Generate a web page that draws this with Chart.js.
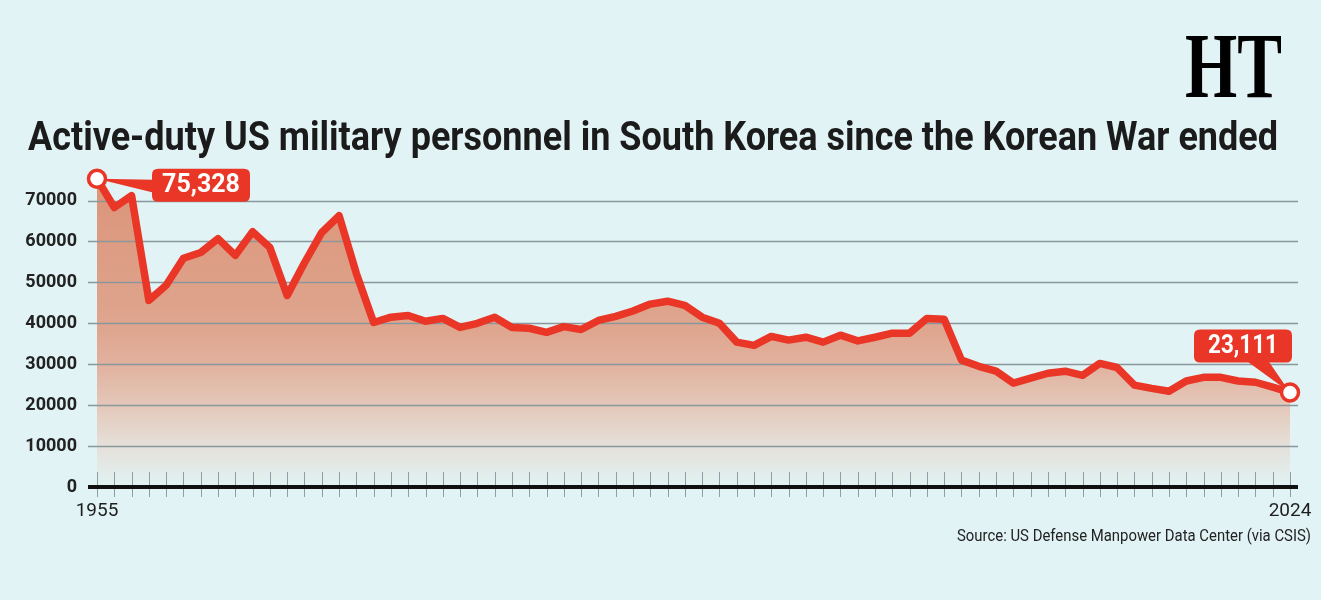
<!DOCTYPE html>
<html><head><meta charset="utf-8">
<script src="https://cdn.jsdelivr.net/npm/chart.js@4.4.1/dist/chart.umd.min.js"></script>
<style>
html,body{margin:0;padding:0;background:#e1f3f5;}
#wrap{position:relative;width:1321px;height:600px;overflow:hidden;background:#e1f3f5;}
canvas{position:absolute;left:0;top:0;}
.fit{position:absolute;white-space:nowrap;transform-origin:0 0;line-height:1;}
#title{left:28px;top:113px;font:700 40px Roboto,sans-serif;color:#1b1b1b;}
#source{top:525px;font:400 17px Roboto,sans-serif;color:#222;}
#logo{left:1185px;top:11px;font:700 94px 'Liberation Serif','DejaVu Serif',serif;color:#000;}
</style></head>
<body><div id="wrap"><canvas id="c" width="1321" height="600"></canvas>
<div id="title" class="fit">Active-duty US military personnel in South Korea since the Korean War ended</div>
<div id="source" class="fit">Source: US Defense Manpower Data Center (via CSIS)</div>
<div id="logo" class="fit">HT</div></div>
<script>
const years = ['1955','1956','1957','1958','1959','1960','1961','1962','1963','1964',
  '1965','1966','1967','1968','1969','1970','1971','1972','1973','1974',
  '1975','1976','1977','1978','1979','1980','1981','1982','1983','1984',
  '1985','1986','1987','1988','1989','1990','1991','1992','1993','1994',
  '1995','1996','1997','1998','1999','2000','2001','2002','2003','2004',
  '2005','2006','2007','2008','2009','2010','2011','2012','2013','2014',
  '2015','2016','2017','2018','2019','2020','2021','2022','2023','2024'];
const personnel = [75328,68300,71200,45600,49300,55900,57300,60700,56600,62400,
  58500,46800,54800,62200,66300,52200,40200,41500,41900,40500,
  41200,39000,40000,41500,39000,38800,37800,39200,38500,40700,
  41700,43000,44700,45400,44400,41500,40000,35400,34600,36800,
  35900,36600,35400,37100,35700,36600,37600,37600,41200,41000,
  31000,29500,28300,25400,26600,27800,28300,27300,30200,29200,
  24900,24100,23400,25900,26800,26800,25900,25600,24400,23111];
const yTickValues = [0,10000,20000,30000,40000,50000,60000,70000];
const xTickLabels = ['1955','2024'];
const callouts = [
  {year:'1955', text:'75,328'},
  {year:'2024', text:'23,111'}
];

function fitEl(id, w, rightEdge){
  const el=document.getElementById(id);
  const nat=el.getBoundingClientRect().width;
  const s=w/nat;
  el.style.transform='scaleX('+s+')';
  if(rightEdge!==undefined){ el.style.left=(rightEdge-w)+'px'; }
}
fitEl('title',1250);
fitEl('source',354,1311);
fitEl('logo',97);

const RED='#ea3626';

function roundRect(ctx,x,y,w,h,r){
  ctx.beginPath();
  ctx.moveTo(x+r,y);ctx.lineTo(x+w-r,y);ctx.quadraticCurveTo(x+w,y,x+w,y+r);
  ctx.lineTo(x+w,y+h-r);ctx.quadraticCurveTo(x+w,y+h,x+w-r,y+h);
  ctx.lineTo(x+r,y+h);ctx.quadraticCurveTo(x,y+h,x,y+h-r);
  ctx.lineTo(x,y+r);ctx.quadraticCurveTo(x,y,x+r,y);ctx.closePath();
}
function fitText(ctx,text,cx,cy,maxW){
  const w=ctx.measureText(text).width;
  const s=Math.min(1,maxW/w);
  ctx.save();ctx.translate(cx,cy);ctx.scale(s,1);
  ctx.textAlign='center';ctx.textBaseline='middle';
  ctx.fillText(text,0,0);ctx.restore();
}

const decor = {
  id:'decor',
  beforeDatasetsDraw(chart){
    const ctx=chart.ctx, ys=chart.scales.y, xs=chart.scales.x, ca=chart.chartArea;
    ctx.save();
    ctx.strokeStyle='#8a979d';ctx.lineWidth=1.5;
    yTickValues.forEach(v=>{
      if(v===0) return;
      const y=Math.round(ys.getPixelForValue(v))+0.5;
      ctx.beginPath();ctx.moveTo(ca.left-9,y);ctx.lineTo(ca.right+8,y);ctx.stroke();
    });
    const y0=ys.getPixelForValue(0);
    ctx.strokeStyle='#8d9ea6';ctx.lineWidth=1;
    years.forEach((yr,i)=>{
      const x=Math.round(xs.getPixelForValue(i))+0.5;
      ctx.beginPath();ctx.moveTo(x,y0-15);ctx.lineTo(x,y0+10);ctx.stroke();
    });
    ctx.strokeStyle='#111';ctx.lineWidth=4;
    ctx.beginPath();ctx.moveTo(ca.left-9,y0);ctx.lineTo(ca.right+8,y0);ctx.stroke();
    ctx.restore();
  },
  afterDatasetsDraw(chart){
    const ctx=chart.ctx, meta=chart.getDatasetMeta(0);
    ctx.save();
    callouts.forEach((c,k)=>{
      const idx=years.indexOf(c.year);
      const p=meta.data[idx];
      let bx,by,bw=98,bh=33,tri;
      if(k===0){
        bx=p.x+55;by=p.y-10;
        tri=[[p.x,p.y],[bx+2,p.y+1],[bx+2,p.y+14]];
      }else{
        bx=p.x-96;by=p.y-63;
        tri=[[p.x,p.y],[p.x-44,by+bh-2],[p.x-22,by+bh-2]];
      }
      ctx.fillStyle=RED;
      ctx.beginPath();ctx.moveTo(tri[0][0],tri[0][1]);ctx.lineTo(tri[1][0],tri[1][1]);ctx.lineTo(tri[2][0],tri[2][1]);ctx.closePath();ctx.fill();
      roundRect(ctx,bx,by,bw,bh,6);ctx.fill();
      ctx.fillStyle='#fff';
      ctx.font='700 25px Roboto, sans-serif';
      fitText(ctx,c.text,bx+bw/2,by+bh/2+1,k===0?80:70);
      ctx.beginPath();ctx.arc(p.x,p.y,8.5,0,Math.PI*2);
      ctx.fillStyle='#fff';ctx.fill();
      ctx.lineWidth=3.5;ctx.strokeStyle=RED;ctx.stroke();
    });
    ctx.restore();
  }
};

new Chart(document.getElementById('c'),{
  type:'line',
  data:{labels:years,datasets:[{
    data:personnel,
    borderColor:RED,borderWidth:7.5,borderJoinStyle:'round',borderCapStyle:'round',
    pointRadius:0,tension:0,clip:false,
    fill:'origin',
    backgroundColor:(c)=>{
      const ch=c.chart, ca=ch.chartArea;
      if(!ca) return '#dd9a80';
      const g=ch.ctx.createLinearGradient(0,ca.top,0,ca.bottom);
      g.addColorStop(0,'#db9479');
      g.addColorStop(0.5,'#dfa68f');
      g.addColorStop(0.61,'#e1b29f');
      g.addColorStop(0.74,'#e4c8ba');
      g.addColorStop(0.87,'#e5e0da');
      g.addColorStop(0.96,'#e2edec');
      g.addColorStop(1,'#e1f2f3');
      return g;
    }
  }]},
  options:{
    responsive:false,animation:false,
    layout:{padding:{left:0,right:31,top:176,bottom:73}},
    plugins:{legend:{display:false},tooltip:{enabled:false},filler:{drawTime:'beforeDatasetsDraw'}},
    scales:{
      x:{type:'category',offset:false,
        grid:{display:false,drawTicks:false},border:{display:false},
        afterFit:(s)=>{s.height=40;s.paddingLeft=0;s.paddingRight=0;},
        ticks:{autoSkip:false,maxRotation:0,padding:13,color:'#1e1e1e',
          font:{family:'Roboto',size:19,weight:'400'},
          callback:function(v,i){const l=this.getLabelForValue(v);return xTickLabels.includes(l)?l:'';}}
      },
      y:{min:0,max:76000,
        grid:{display:false,drawTicks:false},border:{display:false},
        afterFit:(s)=>{s.width=97;},
        afterBuildTicks:(s)=>{s.ticks=yTickValues.map(v=>({value:v}));},
        ticks:{padding:20,color:'#222',font:{family:'Roboto',size:18,weight:'700'},
          callback:(v)=>String(v)}
      }
    }
  },
  plugins:[decor]
});
</script>
</body></html>
